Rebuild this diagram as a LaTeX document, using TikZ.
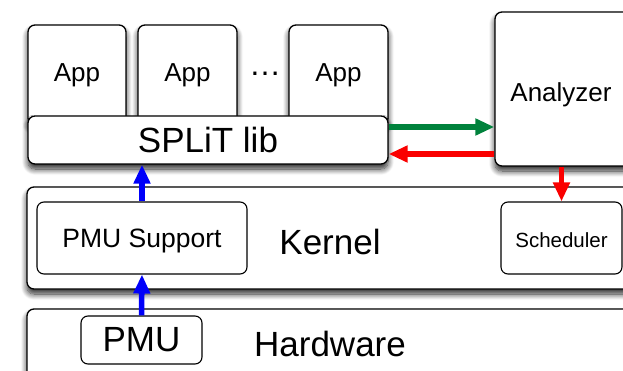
\documentclass[tikz,border=0pt]{standalone}
\usepackage{fontspec}
\setmainfont{Liberation Sans}
\usetikzlibrary{arrows.meta,shadows.blur}
\definecolor{FlowGreen}{RGB}{0,130,60}
\definecolor{FlowRed}{RGB}{250,0,0}
\definecolor{FlowBlue}{RGB}{0,0,250}
\newcommand{\fsz}[1]{\fontsize{#1}{#1}\selectfont}
\tikzset{
  >=Triangle,
  layer/.style={draw=black,line width=1.3pt,rounded corners=7pt,fill=white,inner sep=0pt},
  shadowed/.style={layer,blur shadow={shadow xshift=0pt,shadow yshift=-5pt,shadow blur radius=6pt,shadow blur steps=10,shadow opacity=85}},
  part/.style={layer,line width=1.1pt},
  title/.style={font=\fsz{35}},
  pipe/.style={-{Triangle[length=19pt,width=16pt]},line width=5.5pt},
  up/.style={pipe,draw=FlowBlue},
  fwd/.style={pipe,draw=FlowGreen},
  back/.style={pipe,draw=FlowRed}
}
\begin{document}
\begin{tikzpicture}[x=1pt,y=-1pt]
  \useasboundingbox (0,0) rectangle (623,371);
  \clip (0,0) rectangle (623,371);
  % applications sitting on the library
  \node[shadowed,minimum width=98pt,minimum height=100pt,font=\fsz{26}] (app1) at (77,75) {App};
  \node[shadowed,minimum width=99pt,minimum height=100pt,font=\fsz{26}] (app2) at (187.5,75) {App};
  \node[shadowed,minimum width=99pt,minimum height=100pt,font=\fsz{26}] (app3) at (338.5,75) {App};
  \node[font=\fsz{32},anchor=base,inner sep=0pt] (dots) at (265,75.5) {…};
  \node[shadowed,minimum width=360pt,minimum height=48pt,title] (lib) at (208,140) {SPLiT lib};
  \node[shadowed,minimum width=135pt,minimum height=154pt] (analyzer) at (562.5,89) {};
  \node[font=\fsz{26}] (analyzertxt) at (561,95) {Analyzer};
  % kernel layer
  \node[shadowed,minimum width=613pt,minimum height=102pt] (kernel) at (333.5,238) {};
  \node[part,minimum width=210pt,minimum height=72pt] (pmusup) at (142,238) {};
  \node[font=\fsz{26.5}] (pmusuptxt) at (142,241) {PMU Support};
  \node[title] (kerneltxt) at (330,242) {Kernel};
  \node[part,minimum width=121pt,minimum height=72pt] (sched) at (561.5,238) {};
  \node[font=\fsz{20.5}] (schedtxt) at (561.5,240) {Scheduler};
  % hardware layer
  \node[shadowed,minimum width=613pt,minimum height=71pt] (hw) at (333.5,344.5) {};
  \node[part,minimum width=121pt,minimum height=48pt,title] (pmu) at (141.5,340) {PMU};
  \node[title] (hwtxt) at (330,344) {Hardware};
  % data paths
  \draw[up] (pmu.north) -- (pmusup.south);
  \draw[up] (pmusup.north) -- (lib.south -| pmusup.north);
  \draw[fwd] (lib.east |- 0,127) -- (analyzer.west |- 0,127);
  \draw[back] (analyzer.west |- 0,154) -- (lib.east |- 0,154);
  \draw[back] (analyzer.south -| sched.north) -- (sched.north);
\end{tikzpicture}
\end{document}
